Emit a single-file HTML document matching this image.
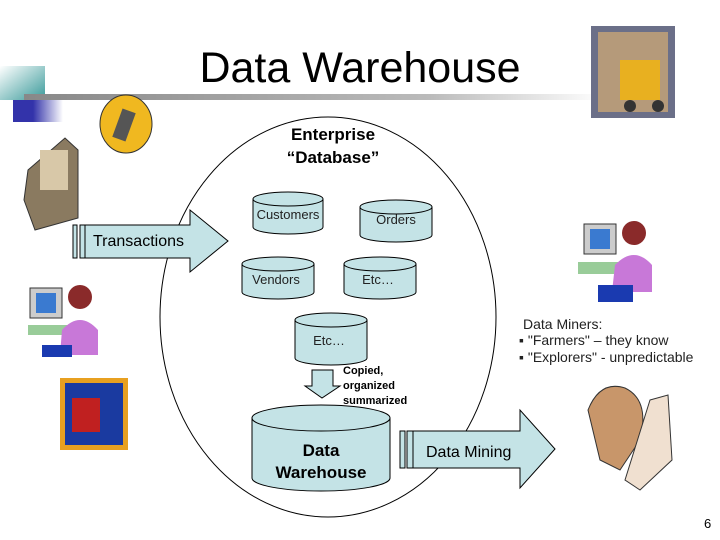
<!DOCTYPE html>
<html><head><style>body{margin:0;background:#fff}svg{display:block}</style></head><body>
<svg width="720" height="540" xmlns="http://www.w3.org/2000/svg" font-family="Liberation Sans, sans-serif">
<defs>
<linearGradient id="ln" x1="0" x2="1"><stop offset="0" stop-color="#888"/><stop offset="0.7" stop-color="#bbb"/><stop offset="1" stop-color="#fff"/></linearGradient>
<linearGradient id="tl" x1="0" x2="1" y1="0" y2="1"><stop offset="0" stop-color="#fff"/><stop offset="1" stop-color="#3a9a9a"/></linearGradient>
<linearGradient id="bl" x1="0" x2="1"><stop offset="0.4" stop-color="#3333aa"/><stop offset="1" stop-color="#fff"/></linearGradient>
</defs>
<rect x="0" y="66" width="45" height="34" fill="url(#tl)"/>
<rect x="13" y="100" width="50" height="22" fill="url(#bl)"/>
<rect x="24" y="94" width="580" height="6" fill="url(#ln)"/>
<text x="360" y="82" font-size="43" text-anchor="middle">Data Warehouse</text>
<rect x="591" y="26" width="84" height="92" fill="#6b6f88"/>
<rect x="598" y="32" width="70" height="80" fill="#b59a7a"/>
<rect x="620" y="60" width="40" height="40" fill="#e8b020"/>
<circle cx="630" cy="106" r="6" fill="#333"/><circle cx="658" cy="106" r="6" fill="#333"/>
<ellipse cx="126" cy="124" rx="26" ry="29" fill="#f0b820" stroke="#333"/>
<rect x="117" y="110" width="14" height="30" fill="#555" transform="rotate(20 124 125)"/>
<path d="M28 170 L65 138 L78 150 L78 218 L35 230 L24 200 Z" fill="#8a7a60" stroke="#333"/>
<rect x="40" y="150" width="28" height="40" fill="#d8c8a8"/>
<ellipse cx="328" cy="317" rx="168" ry="200" fill="none" stroke="#000" stroke-width="1"/>
<text x="333" y="140" font-size="17" font-weight="bold" text-anchor="middle">Enterprise</text>
<text x="333" y="163" font-size="17" font-weight="bold" text-anchor="middle">“Database”</text>
<g fill="#c4e3e6" stroke="#000" stroke-width="1">
<path d="M253 199 V227 A35 7 0 0 0 323 227 V199"/><ellipse cx="288" cy="199" rx="35" ry="7"/>
<path d="M360 207 V235 A36 7 0 0 0 432 235 V207"/><ellipse cx="396" cy="207" rx="36" ry="7"/>
<path d="M242 264 V292 A36 7 0 0 0 314 292 V264"/><ellipse cx="278" cy="264" rx="36" ry="7"/>
<path d="M344 264 V292 A36 7 0 0 0 416 292 V264"/><ellipse cx="380" cy="264" rx="36" ry="7"/>
<path d="M295 320 V358 A36 7 0 0 0 367 358 V320"/><ellipse cx="331" cy="320" rx="36" ry="7"/>
<path d="M252 418 V478 A69 13 0 0 0 390 478 V418"/><ellipse cx="321" cy="418" rx="69" ry="13"/>
<path d="M85 225 H190 V210 L228 241 L190 272 V258 H85 Z"/>
<rect x="73" y="225" width="4" height="33"/><rect x="80" y="225" width="5" height="33"/>
<path d="M312 370 H333 V386 H340 L322 398 L305 386 H312 Z"/>
<path d="M413 431 H520 V410 L555 449 L520 488 V468 H413 Z"/>
<rect x="400" y="431" width="5" height="37"/><rect x="407" y="431" width="6" height="37"/>
</g>
<g font-size="13" fill="#222" text-anchor="middle">
<text x="288" y="219">Customers</text><text x="396" y="224">Orders</text>
<text x="276" y="284">Vendors</text><text x="378" y="284">Etc…</text><text x="329" y="345">Etc…</text>
</g>
<text x="93" y="246" font-size="16">Transactions</text>
<text x="426" y="457" font-size="16">Data Mining</text>
<text x="321" y="456" font-size="17" font-weight="bold" text-anchor="middle">Data</text>
<text x="321" y="478" font-size="17" font-weight="bold" text-anchor="middle">Warehouse</text>
<g font-size="11" font-weight="bold"><text x="343" y="374">Copied,</text><text x="343" y="389">organized</text><text x="343" y="404">summarized</text></g>
<g font-size="14" fill="#222"><text x="523" y="329">Data Miners:</text><text x="519" y="345">▪ "Farmers" – they know</text><text x="519" y="362">▪ "Explorers" - unpredictable</text></g>
<text x="704" y="528" font-size="13">6</text>
<g>
<rect x="30" y="288" width="32" height="30" fill="#ccc" stroke="#333"/><rect x="36" y="293" width="20" height="20" fill="#3a7ad0"/>
<rect x="28" y="325" width="40" height="10" fill="#9c9"/>
<circle cx="80" cy="297" r="12" fill="#8a2a2a"/><path d="M62 330 Q80 310 98 330 L98 355 H60 Z" fill="#c878d8"/><rect x="42" y="345" width="30" height="12" fill="#1a3ab0"/>
<rect x="584" y="224" width="32" height="30" fill="#ccc" stroke="#333"/><rect x="590" y="229" width="20" height="20" fill="#3a7ad0"/>
<rect x="578" y="262" width="40" height="12" fill="#9c9"/>
<circle cx="634" cy="233" r="12" fill="#8a2a2a"/><path d="M615 265 Q634 245 652 265 L652 292 H612 Z" fill="#c878d8"/><rect x="598" y="285" width="35" height="17" fill="#1a3ab0"/>
</g>
<rect x="60" y="378" width="68" height="72" fill="#e8a020"/><rect x="65" y="383" width="58" height="62" fill="#1a3aa0"/><rect x="72" y="398" width="28" height="34" fill="#c02020"/>
<path d="M588 410 Q600 380 625 388 Q650 400 640 440 L620 470 L600 460 Z" fill="#c8966a" stroke="#333"/>
<path d="M650 400 L668 395 L672 460 L640 490 L625 480 Z" fill="#f0e0d0" stroke="#333"/>
</svg>
</body></html>
